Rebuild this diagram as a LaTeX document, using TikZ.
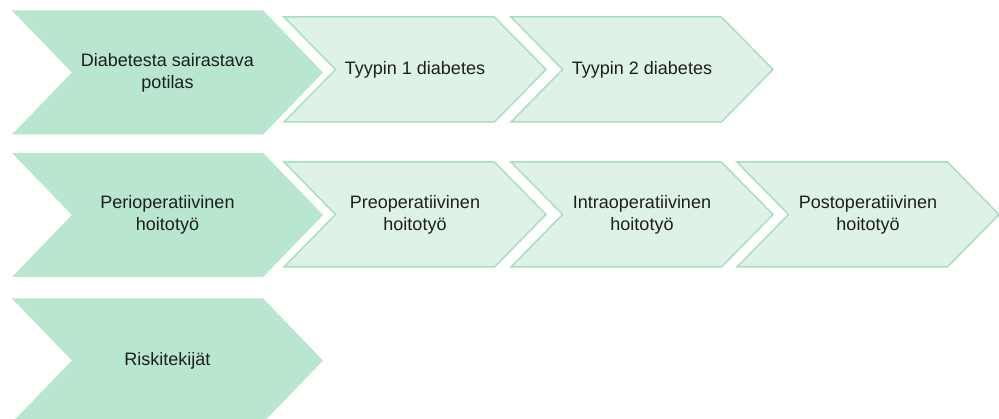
\documentclass[tikz,border=0pt]{standalone}
\usepackage{fontspec}
\setmainfont{Liberation Sans}
\usetikzlibrary{shapes.symbols}
\definecolor{mainfill}{RGB}{185,230,207}
\definecolor{subfill}{RGB}{222,242,231}
\definecolor{subline}{RGB}{168,222,194}
\definecolor{textdark}{RGB}{30,30,30}
\begin{document}
\begin{tikzpicture}[x=1pt,y=-1pt,outer sep=0pt,inner sep=0pt,
    font=\fontsize{18}{22}\selectfont,text=textdark,
    mainchev/.style={signal,signal from=west,signal to=east,signal pointer angle=92,
      fill=mainfill,minimum width=311pt,minimum height=124pt,align=center},
    subchev/.style={signal,signal from=west,signal to=east,signal pointer angle=91,
      fill=subfill,draw=subline,line width=1.5pt,minimum width=262pt,minimum height=105pt,align=center}]
    \useasboundingbox (0,0) rectangle (999,419);
    \node[mainchev] (potilas) at (167.5,72.5) {Diabetesta sairastava\\potilas};
    \node[subchev] (tyyppi1) at (415,69.5) {Tyypin 1 diabetes};
    \node[subchev] (tyyppi2) at (642,69.5) {Tyypin 2 diabetes};
    \node[mainchev] (periop) at (167.5,215) {Perioperatiivinen\\hoitotyö};
    \node[subchev] (preop) at (415,214.5) {Preoperatiivinen\\hoitotyö};
    \node[subchev] (intraop) at (642,214.5) {Intraoperatiivinen\\hoitotyö};
    \node[subchev] (postop) at (868,214.5) {Postoperatiivinen\\hoitotyö};
    \node[mainchev] (riskit) at (167.5,360.5) {Riskitekijät};
\end{tikzpicture}
\end{document}
